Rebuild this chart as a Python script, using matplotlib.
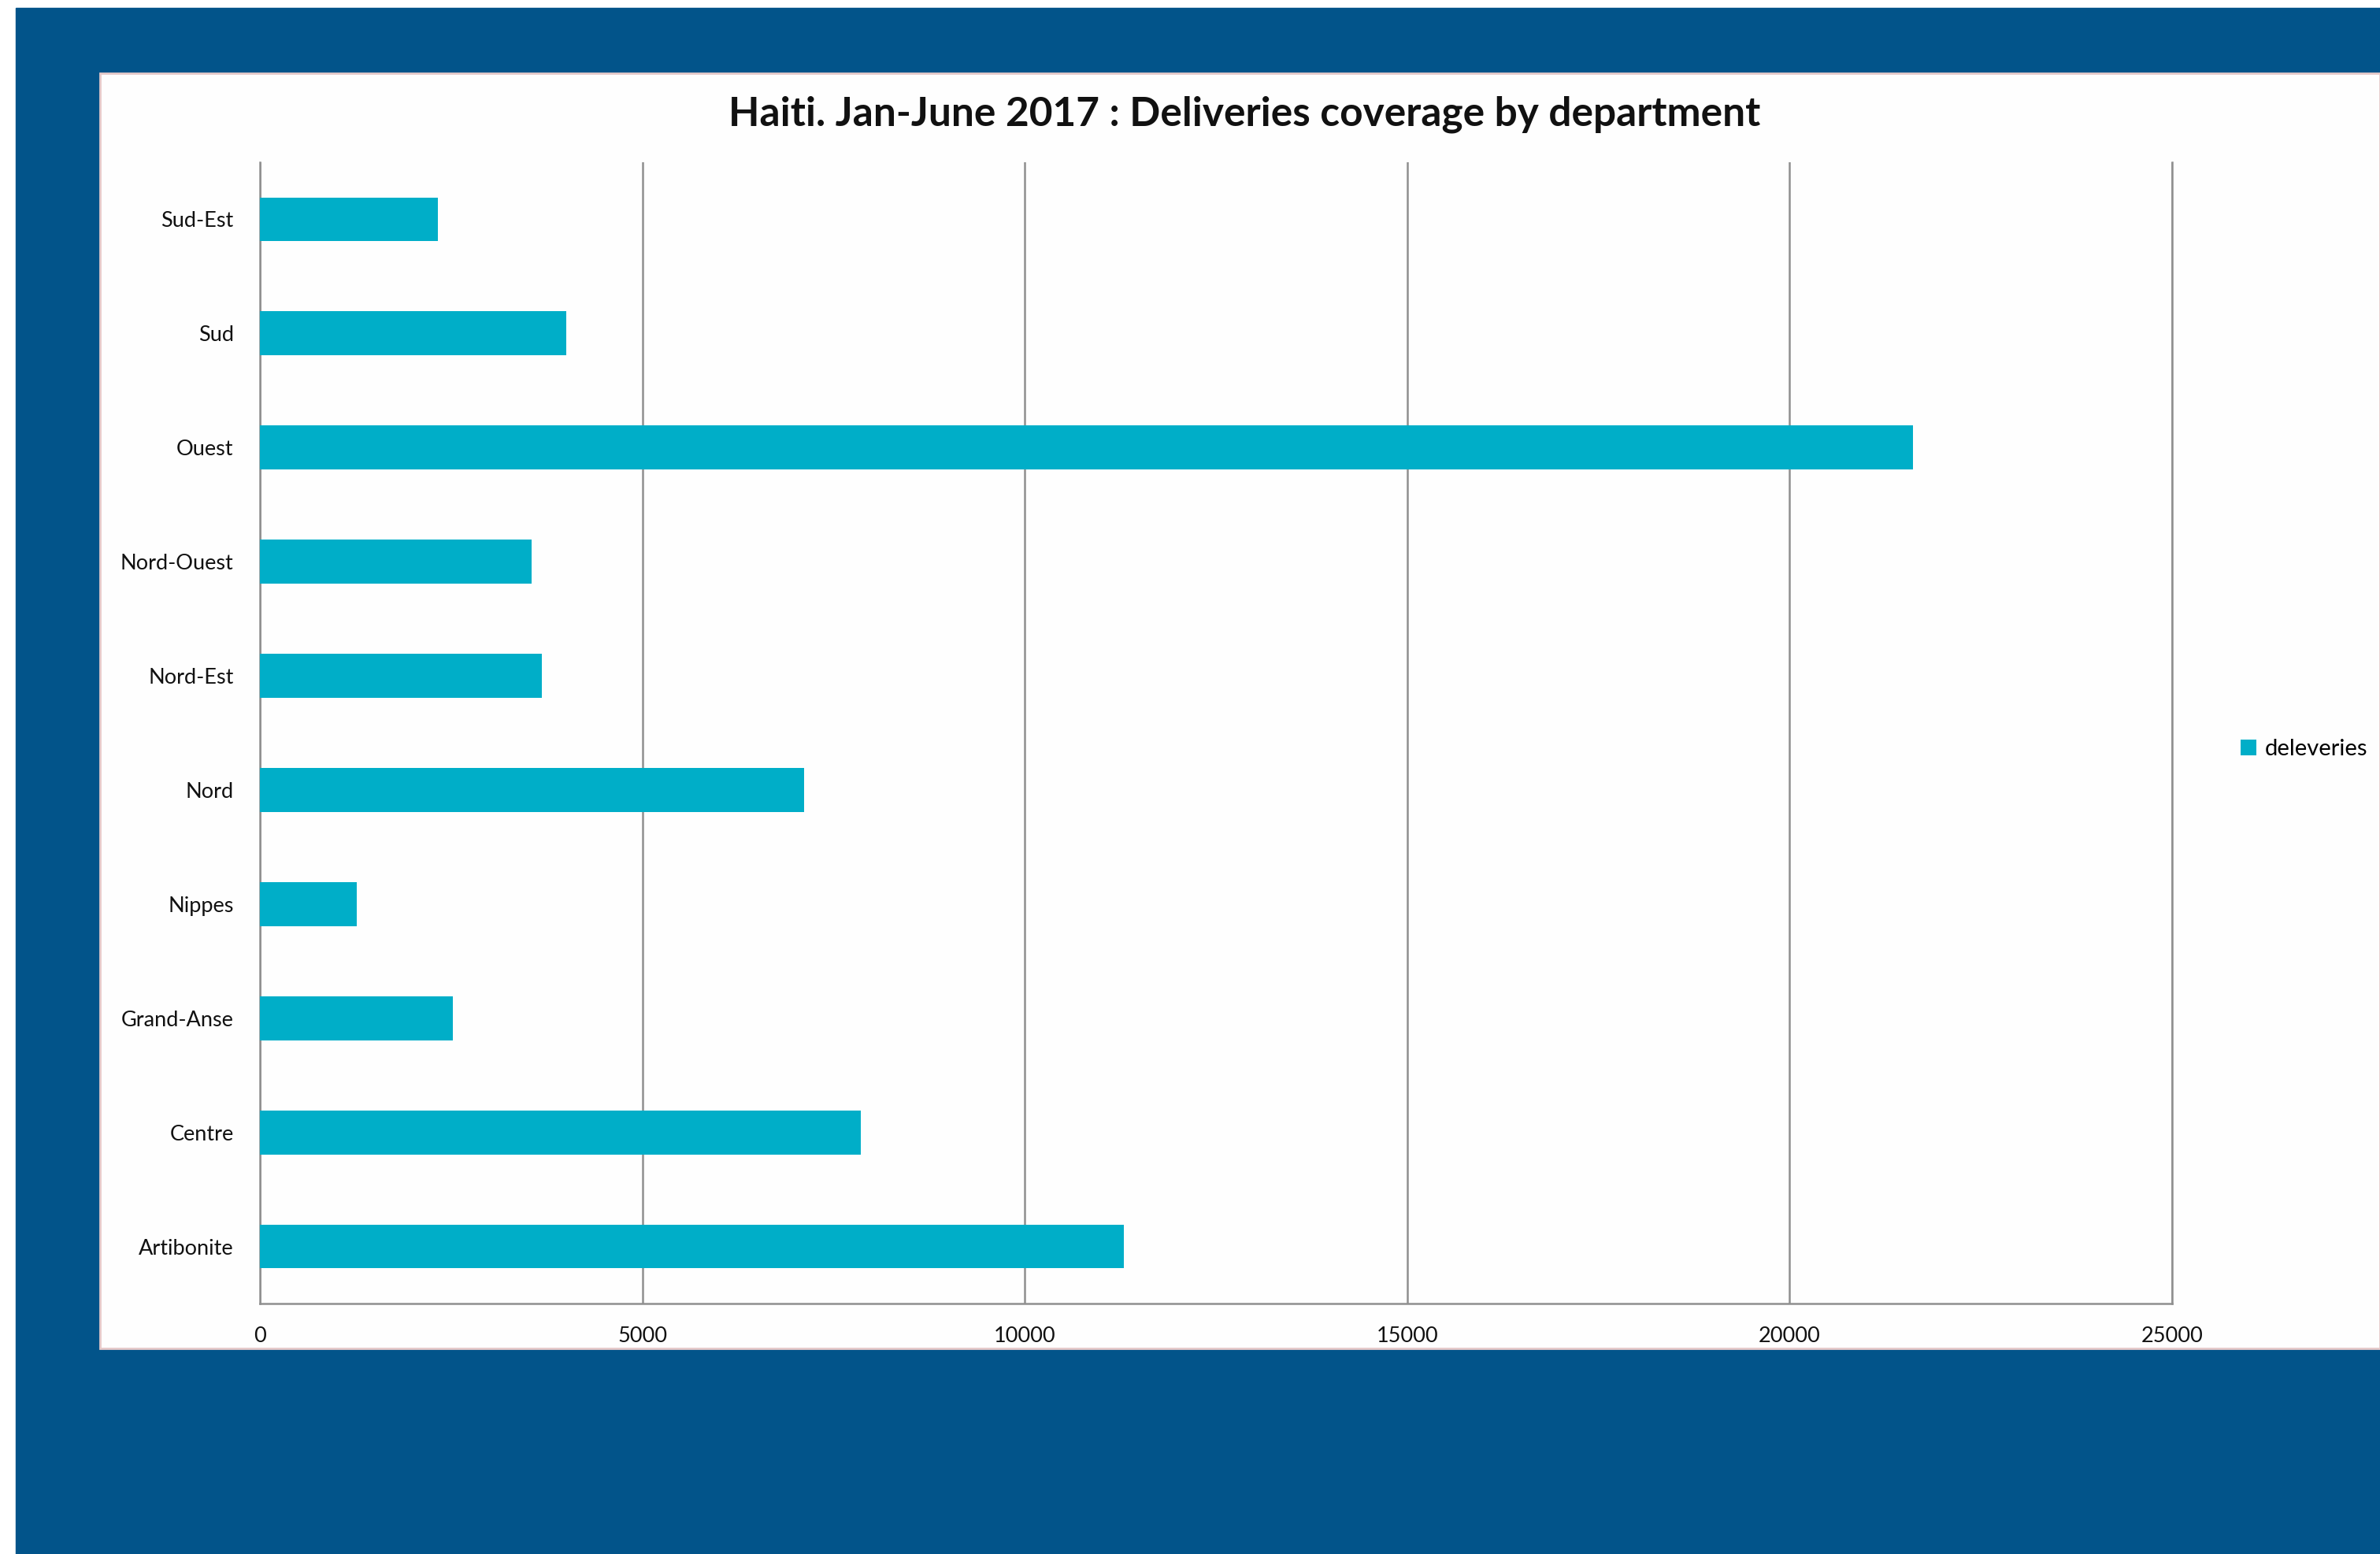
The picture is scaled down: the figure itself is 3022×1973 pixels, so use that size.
import matplotlib.pyplot as plt
from matplotlib.patches import Rectangle

# data
departments = ['Artibonite', 'Centre', 'Grand-Anse', 'Nippes', 'Nord',
               'Nord-Est', 'Nord-Ouest', 'Ouest', 'Sud', 'Sud-Est']
deliveries = [11300, 7860, 2520, 1270, 7120, 3690, 3550, 21610, 4010, 2330]
x_ticks = [0, 5000, 10000, 15000, 20000, 25000]

W, H = 3022, 1973
blue = '#02548A'
bar_color = '#00AEC8'
grid_color = '#8f8f8f'

plt.rcParams['font.family'] = ['Lato', 'DejaVu Sans']

fig = plt.figure(figsize=(W / 100, H / 100), dpi=100)
fig.patch.set_facecolor('white')

# blue slide background and white chart panel
fig.add_artist(Rectangle((20 / W, 0), 1 - 20 / W, 1 - 10 / H,
                         transform=fig.transFigure, color=blue, zorder=0))
fig.add_artist(Rectangle((127 / W, 1 - 1712 / H), 1 - 127 / W, (1712 - 93) / H,
                         transform=fig.transFigure, facecolor='#fefefe',
                         edgecolor='#e6c9c9', lw=2, zorder=0))

ax = fig.add_axes([330 / W, 1 - 1655 / H, (2758 - 330) / W, (1655 - 206) / H])
ax.set_facecolor('none')

ax.barh(range(len(departments)), deliveries, height=0.385, color=bar_color,
        label='deleveries', zorder=3)

ax.set_xlim(0, 25000)
ax.set_ylim(-0.5, len(departments) - 0.5)
ax.set_xticks(x_ticks)
ax.set_xticklabels([str(t) for t in x_ticks])
ax.set_yticks(range(len(departments)))
ax.set_yticklabels(departments)
ax.tick_params(axis='both', length=0, labelsize=19.5, colors='#111111')
ax.tick_params(axis='y', pad=24)
ax.tick_params(axis='x', pad=21)

ax.xaxis.grid(True, color=grid_color, lw=1.8)
ax.set_axisbelow(True)
ax.spines['top'].set_visible(False)
for side in ['left', 'bottom', 'right']:
    ax.spines[side].set_color(grid_color)
    ax.spines[side].set_linewidth(1.8)

fig.text(1580 / W, 1 - 145 / H,
         'Haiti. Jan-June 2017 : Deliveries coverage by department',
         ha='center', va='center', fontsize=37, fontweight='bold', color='#111111')

fig.legend(loc='center left', bbox_to_anchor=(2845 / W, 1 - 951 / H),
           frameon=False, fontsize=21, handlelength=0.7, handleheight=0.7,
           handletextpad=0.35, borderpad=0, borderaxespad=0)

fig.savefig('out.png', dpi=100)
